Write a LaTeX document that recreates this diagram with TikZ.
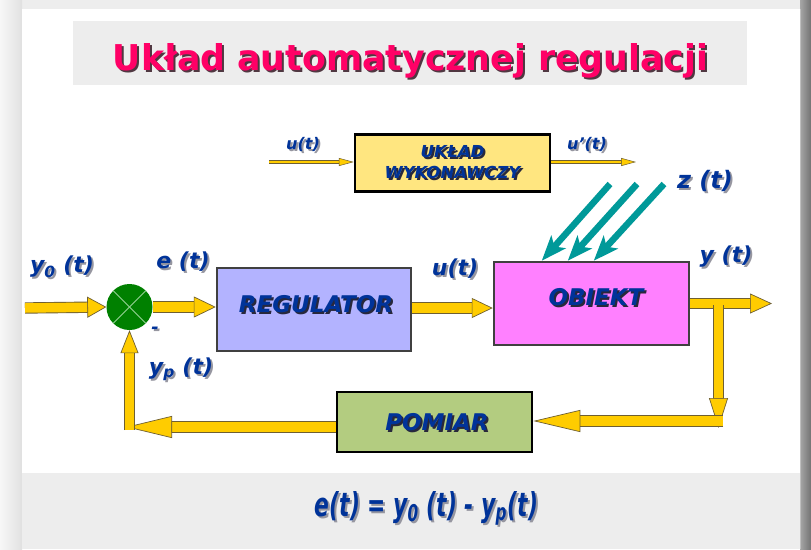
\documentclass[tikz,border=0pt]{standalone}
\usepackage{fontspec}
\usetikzlibrary{arrows.meta,calc}
\newfontfamily\dv{DejaVu Sans}[BoldFont={DejaVu Sans Bold},ItalicFont={DejaVu Sans Oblique},BoldItalicFont={DejaVu Sans Bold Oblique}]
\definecolor{titc}{RGB}{255,0,102}
\definecolor{titsh}{RGB}{80,55,65}
\definecolor{lblue}{RGB}{0,51,153}
\definecolor{shadc}{RGB}{150,150,160}
\definecolor{boxsh}{RGB}{40,40,60}
\definecolor{yel}{RGB}{255,204,0}
\definecolor{yedge}{RGB}{110,95,50}
\definecolor{teal2}{RGB}{0,153,153}
\definecolor{sumg}{RGB}{0,128,0}
\definecolor{sumx}{RGB}{150,210,150}
\definecolor{band}{RGB}{237,237,237}
\definecolor{ukc}{RGB}{255,230,128}
\definecolor{regc}{RGB}{179,179,255}
\definecolor{objc}{RGB}{255,128,255}
\definecolor{pomc}{RGB}{179,204,128}
\newcommand\shad[2][shadc]{\makebox[0pt][l]{\kern2pt\raisebox{-2pt}{\textcolor{#1}{#2}}}#2}
\tikzset{
  lbl/.style={font=\dv\bfseries\itshape\fontsize{#1}{#1}\selectfont, text=lblue, inner sep=0pt},
  blk/.style={draw=#1, line width=2.5pt, minimum width=195pt, inner sep=0pt,
     font=\dv\bfseries\itshape\fontsize{23}{26}\selectfont, text=lblue},
  fat/.style n args={2}{line width=9.5pt, draw=yel,
     -{Triangle[length=#1, width=#2, color=yedge, fill=yel, line width=0.7pt]},
     preaction={draw=yedge, line width=11.3pt, arrows=-, shorten >=#1-4pt}},
  thin/.style={line width=2.2pt, draw=yel,
     -{Triangle[length=15pt, width=8pt, color=yedge, fill=yel, line width=0.5pt]},
     preaction={draw=yedge, line width=3.4pt, arrows=-, shorten >=11pt}},
  dist/.style={line width=6.5pt, draw=teal2, -{Stealth[length=25pt, width=19pt, inset=6pt]}}
}
\begin{document}
\begin{tikzpicture}[x=1pt,y=-1pt]
\useasboundingbox (0,0) rectangle (811,549);
% background
\fill[color=black!7] (0,0) rectangle (811,549);
\shade[left color=black!3, right color=black!12] (0,0) rectangle (22,549);
\shade[left color=black!35, right color=black!55] (800,0) rectangle (811,549);
\fill[white] (22,9) rectangle (800,549);
\draw[black!25, line width=0.8pt] (800,9) -- (800,549);
\fill[band] (22,473) rectangle (799.5,549);
\fill[band] (73,21) rectangle (747,85);
% title
\node[anchor=base, text=titc, inner sep=0pt] (title) at (410.5,70)
  {\shad[titsh]{\resizebox{595pt}{27pt}{\dv\bfseries Układ automatycznej regulacji}}};
% blocks
\node[blk=black, fill=ukc, minimum width=195pt, minimum height=57pt, align=center,
      font=\dv\bfseries\itshape\fontsize{16.5}{21}\selectfont] (uw) at (452.5,163)
  {\shad[boxsh]{UKŁAD}\\\shad[boxsh]{WYKONAWCZY}};
\node[blk=black!75, fill=regc, minimum width=194pt, minimum height=83pt] (reg) at (314,309.5) {};
\node[lbl=23] (regt) at (316,305) {\shad[boxsh]{REGULATOR}};
\node[blk=black!75, fill=objc, minimum height=83pt] (obj) at (591.5,303.5) {};
\node[lbl=23] (objt) at (596,298) {\shad[boxsh]{OBIEKT}};
\node[blk=black, fill=pomc, minimum height=60pt] (pom) at (434.5,422) {};
\node[lbl=23] (pomt) at (437,423) {\shad[boxsh]{POMIAR}};
\node[circle, fill=sumg, minimum size=46pt, inner sep=0pt] (sum) at (129.5,307) {};
\draw[sumx, line width=1pt] (sum.north west) -- (sum.south east);
\draw[sumx, line width=1pt] (sum.north east) -- (sum.south west);
% coordinates
\coordinate (in) at (25,308);
\coordinate (yout) at (772,303.5);
\coordinate (br) at (718.5,305);
\coordinate (dn) at (718.5,428);
\coordinate (c2) at (723,421);
\coordinate (fb) at (126,427);
\coordinate (ui) at (269,162);
\coordinate (uo) at (636,162);
\coordinate (z1) at (610,184);
\coordinate (z2) at (637,184);
\coordinate (z3) at (664,184);
% main path arrows
\draw[fat={19pt}{21pt}] (in) -- (sum.west);
\draw[fat={22pt}{21pt}] (sum.east) -- (sum.east -| reg.west);
\draw[fat={21pt}{20pt}] ($(reg.east)+(0,-1.5)$) -- ($(reg.east -| obj.west)+(0,-1.5)$);
\draw[fat={22pt}{20pt}] (obj.east) -- (yout);
\draw[fat={30pt}{19pt}] (br) -- (dn);
\draw[fat={47pt}{22pt}] (c2) -- (c2 -| pom.east);
\draw[fat={46pt}{22pt}] ($(pom.west)+(0,5)$) -- (fb);
\draw[fat={23pt}{18pt}] ($(fb -| sum.south)+(0,3)$) -- (sum.south);
% actuator
\draw[thin] (ui) -- (ui -| uw.west);
\draw[thin] (uo -| uw.east) -- (uo);
% disturbances
\draw[dist] (z1) -- ($(obj.north west)+(49,0)$);
\draw[dist] (z2) -- ($(obj.north west)+(75,0)$);
\draw[dist] (z3) -- ($(obj.north west)+(101,0)$);
% labels
\node[lbl=16] (lu1) at (303,145) {\shad{u(t)}};
\node[lbl=16] (lu2) at (587,145) {\shad{u’(t)}};
\node[lbl=24] (lz) at (705,182) {\shad{z (t)}};
\node[lbl=22] (ly0) at (62,268) {\shad{y\textsubscript{0} (t)}};
\node[lbl=22] (le) at (183,263) {\shad{e (t)}};
\node[lbl=22] (lu) at (455,270) {\shad{u(t)}};
\node[lbl=22] (ly) at (726,258) {\shad{y (t)}};
\node[lbl=18] (lm) at (155,331) {\shad{-}};
\node[lbl=22] (lyp) at (181,370) {\shad{y\textsubscript{p} (t)}};
% formula
\node[anchor=base, text=lblue, inner sep=0pt] (form) at (426.5,516)
  {\shad[shadc]{\resizebox{223pt}{25pt}{\dv\bfseries\itshape e(t) = y\textsubscript{0} (t) - y\textsubscript{p}(t)}}};
\end{tikzpicture}
\end{document}
